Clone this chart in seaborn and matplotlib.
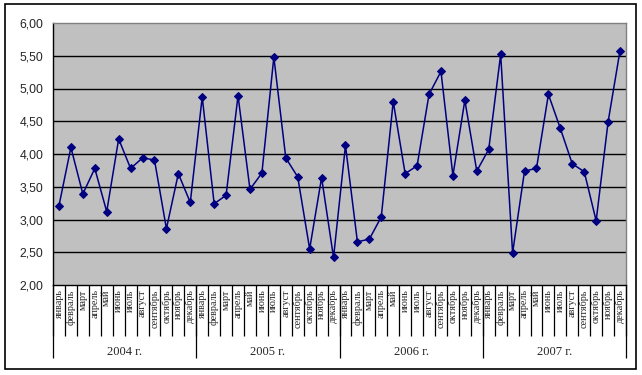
"""
Line chart of monthly values 2004-2007, Excel-like styling.
"""

import numpy as np
import pandas as pd
import matplotlib
matplotlib.use("Agg")
import matplotlib.pyplot as plt
import seaborn as sns
from matplotlib.patches import Rectangle

# Data
MESES = ["январь", "февраль", "март", "апрель", "май", "июнь",
         "июль", "август", "сентябрь", "октябрь", "ноябрь", "декабрь"]
ANOS = ["2004 г.", "2005 г.", "2006 г.", "2007 г."]

VALORES_2004 = [3.21, 4.10, 3.39, 3.78, 3.12, 4.23, 3.78, 3.94, 3.91, 2.86, 3.70, 3.26]
VALORES_2005 = [4.87, 3.24, 3.37, 4.89, 3.46, 3.71, 5.48, 3.94, 3.65, 2.55, 3.64, 2.42]
VALORES_2006 = [4.13, 2.66, 2.70, 3.04, 4.80, 3.70, 3.82, 4.91, 5.26, 3.67, 4.82, 3.74]
VALORES_2007 = [4.07, 5.52, 2.49, 3.74, 3.78, 4.91, 4.39, 3.85, 3.73, 2.98, 4.49, 5.58]

Y_TICKS = [2.0, 2.5, 3.0, 3.5, 4.0, 4.5, 5.0, 5.5, 6.0]

W, H = 642, 375


def montar_dados():
    valores = VALORES_2004 + VALORES_2005 + VALORES_2006 + VALORES_2007
    df = pd.DataFrame({
        "idx": np.arange(len(valores)),
        "mes": MESES * len(ANOS),
        "valor": valores,
    })
    return df


def main():
    sns.set_style("white")
    df = montar_dados()
    n = len(df)

    fig = plt.figure(figsize=(W / 100, H / 100), dpi=100)
    fig.patch.set_facecolor("white")

    # borda externa do gráfico
    fig.patches.append(Rectangle((5 / W, (H - 369) / H), 631 / W, 365 / H,
                                 transform=fig.transFigure, fill=False,
                                 edgecolor="black", linewidth=1.2))

    left, right, top, bottom = 53, 626, 23, 285
    ax = fig.add_axes([left / W, (H - bottom) / H, (right - left) / W, (bottom - top) / H])
    ax.set_facecolor("#C0C0C0")
    ax_h = bottom - top

    for y in Y_TICKS[1:-1]:
        ax.axhline(y, color="black", linewidth=1, zorder=1)

    sns.lineplot(data=df, x="idx", y="valor", ax=ax, color="#000080",
                 linewidth=1.1, marker="D", markersize=4.5,
                 markeredgecolor="#000080", zorder=3)

    ax.set_xlim(-0.5, n - 0.5)
    ax.set_ylim(2, 6)
    ax.set_yticks(Y_TICKS)
    ax.set_yticklabels([f"{v:.2f}".replace(".", ",") for v in Y_TICKS],
                       fontsize=8.8, family="Liberation Sans")
    ax.tick_params(axis="y", length=4, width=1, color="black", pad=3)

    ax.set_xticks(df["idx"])
    ax.set_xticklabels(df["mes"], rotation=90, fontsize=7.3,
                       family="Liberation Serif", va="top")
    ax.tick_params(axis="x", length=0, pad=3)
    ax.set_xlabel("")
    ax.set_ylabel("")

    for lado in ["top", "right"]:
        ax.spines[lado].set_color("#808080")
        ax.spines[lado].set_linewidth(1)
    for lado in ["left", "bottom"]:
        ax.spines[lado].set_color("black")
        ax.spines[lado].set_linewidth(1)

    # separadores dos meses e dos anos
    trans = ax.get_xaxis_transform()
    fronteiras = np.arange(-0.5, n, 1)
    ax.vlines(fronteiras, -51 / ax_h, 0, transform=trans, color="black",
              linewidth=0.9, clip_on=False)
    anos_front = np.arange(-0.5, n, 12)
    ax.vlines(anos_front, -73 / ax_h, 0, transform=trans, color="black",
              linewidth=0.9, clip_on=False)

    for i, ano in enumerate(ANOS):
        ax.text(i * 12 + 5.5, -67 / ax_h, ano, transform=trans, ha="center",
                va="center", fontsize=9, family="Liberation Serif")

    fig.savefig("out.png", dpi=100)
    plt.close(fig)


if __name__ == "__main__":
    main()
